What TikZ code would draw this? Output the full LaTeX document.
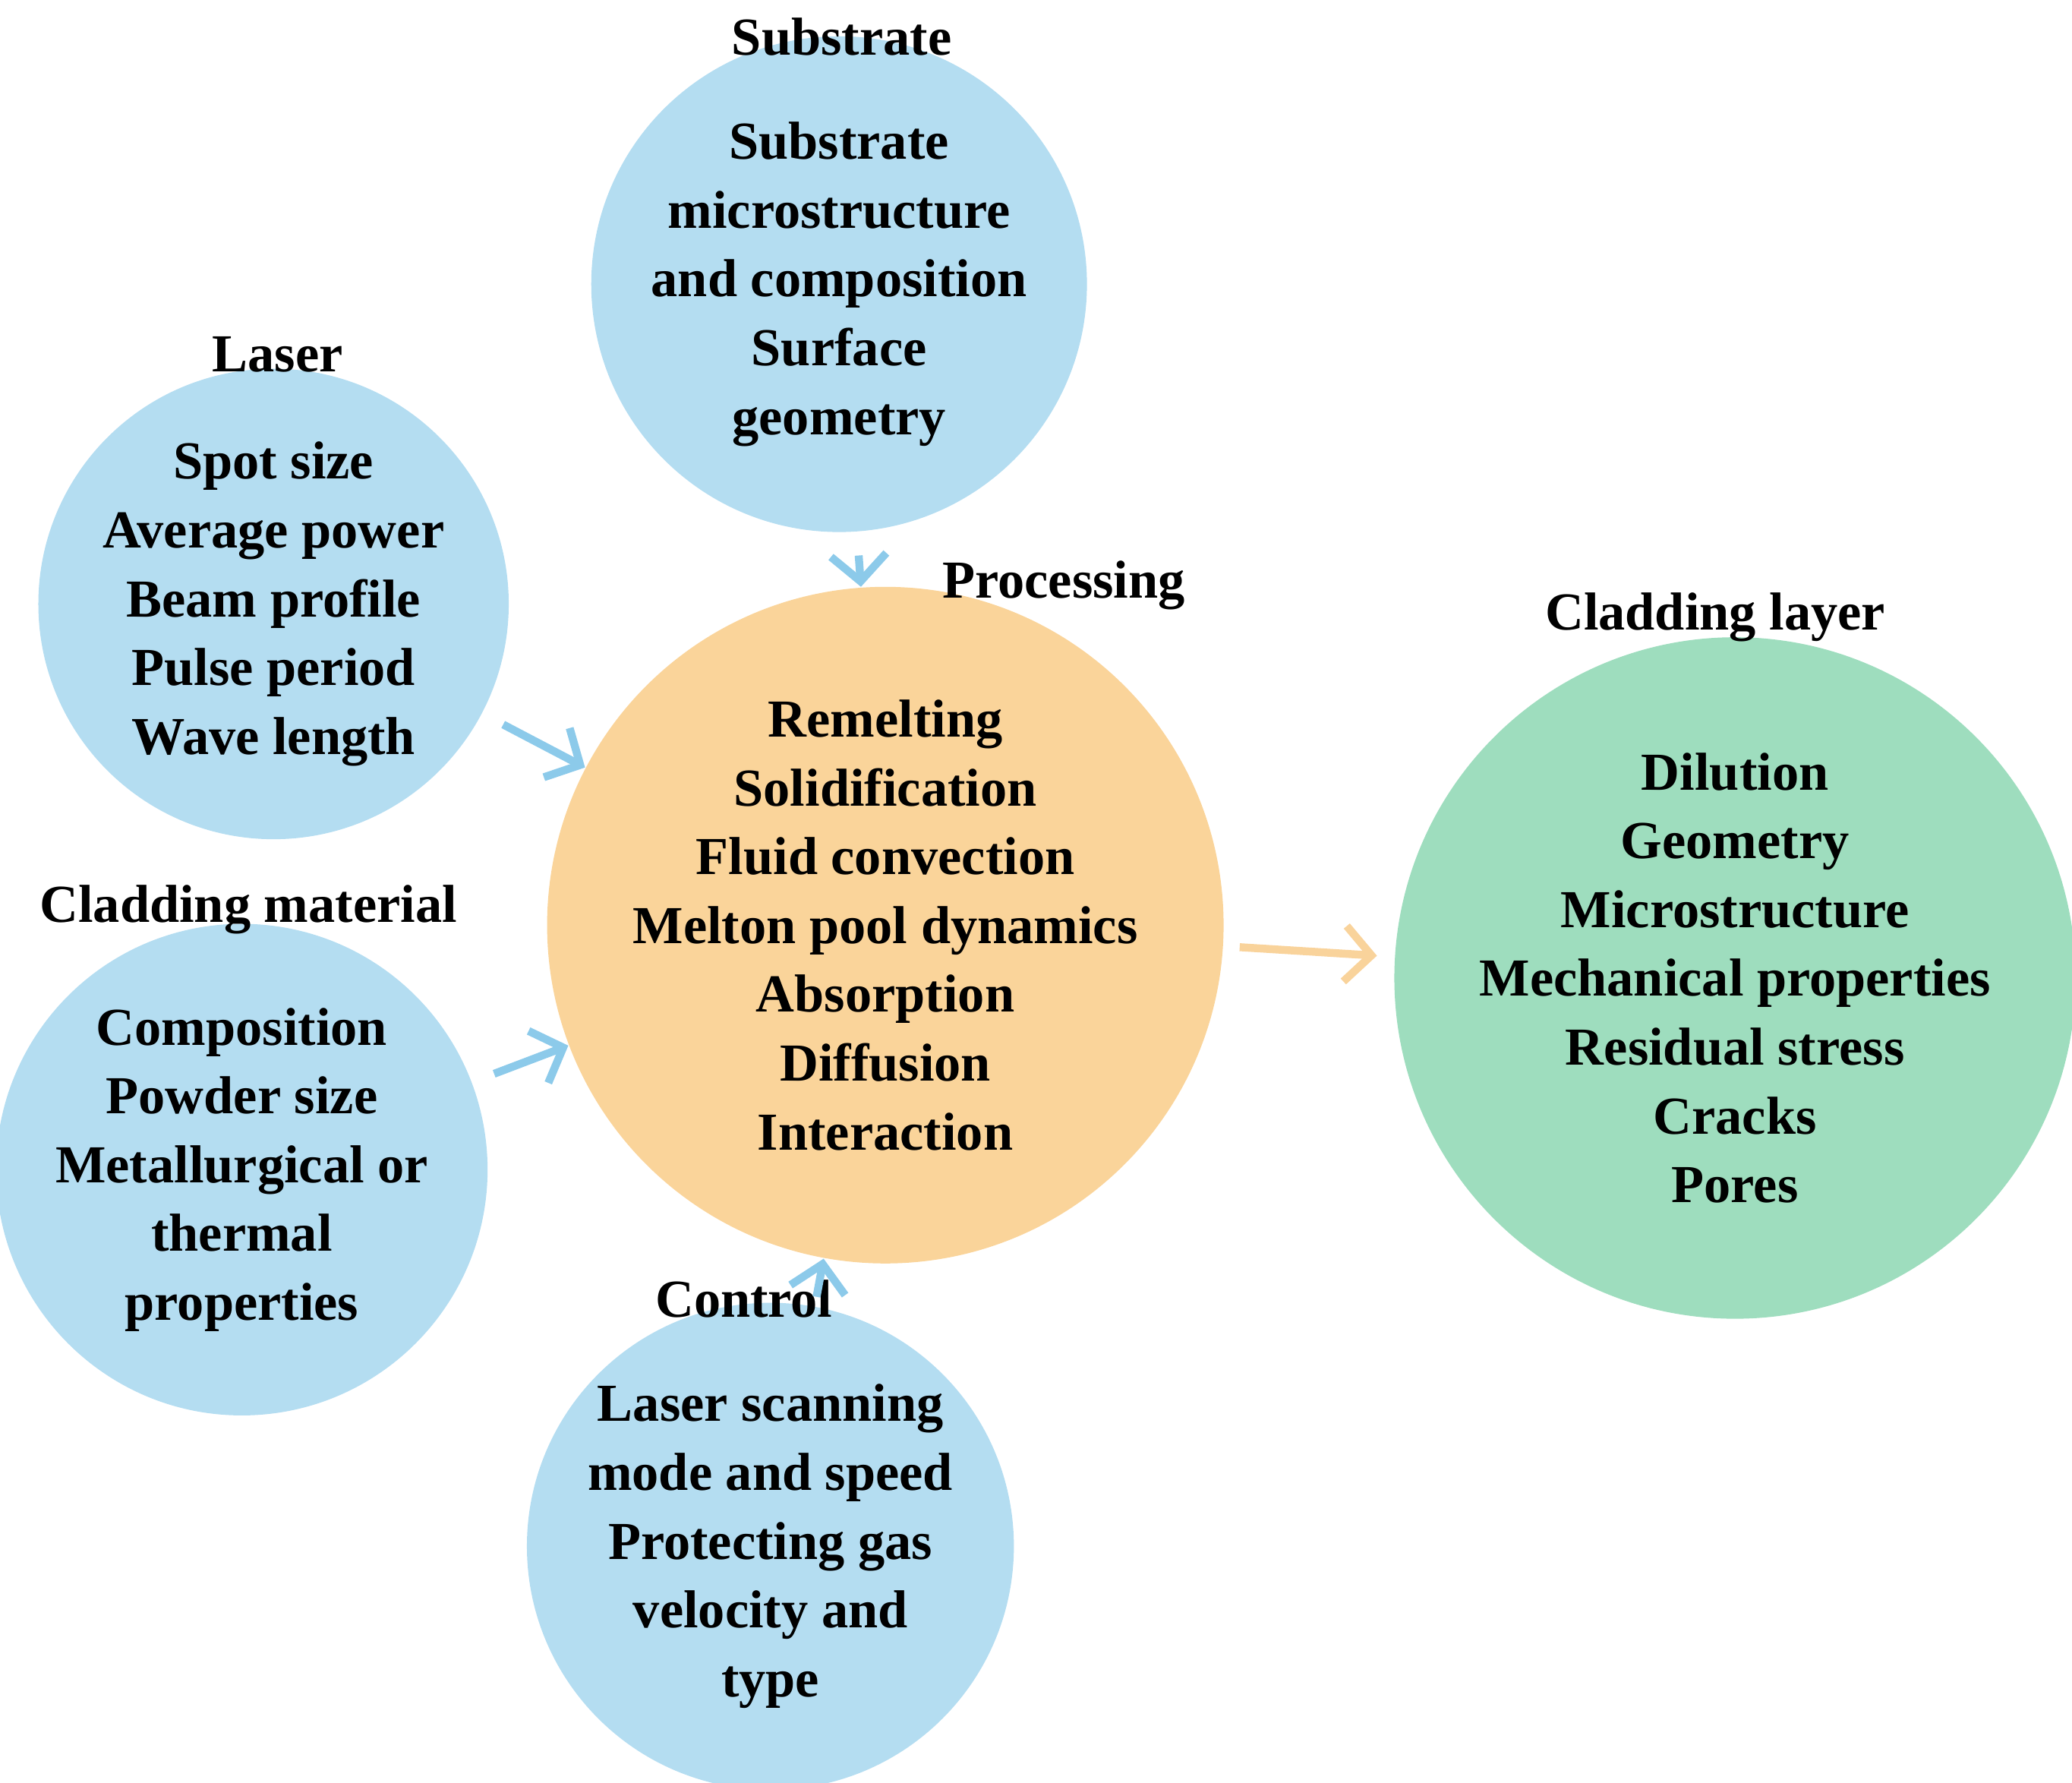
\documentclass[tikz,border=0pt]{standalone}
\usepackage{fontspec}
\setmainfont{Liberation Serif}
\usetikzlibrary{arrows.meta}
\definecolor{cblue}{RGB}{180,221,241}
\definecolor{corange}{RGB}{250,212,154}
\definecolor{cgreen}{RGB}{158,221,190}
\definecolor{ablue}{RGB}{140,202,234}
\definecolor{aorange}{RGB}{249,211,155}
\begin{document}
\begin{tikzpicture}[x=0.01cm,y=-0.01cm,
  circ/.style={circle,inner sep=0pt,align=center,font=\fontsize{11.5}{14.8}\selectfont\bfseries},
  ttl/.style={font=\fontsize{11.5}{14}\selectfont\bfseries},
  arr/.style={line width=0.06cm,-{Straight Barb[length=0.2cm,width=0.42cm]}}]
\useasboundingbox (0,0) rectangle (1568,1349);
\node[circ,fill=cblue,minimum size=3.4cm] (sub) at (635,215) {Substrate\\microstructure\\and composition\\Surface\\geometry};
\node[circ,fill=cblue,minimum size=3.4cm] (las) at (207,457) {Spot size\\Average power\\Beam profile\\Pulse period\\Wave length};
\node[circ,fill=cblue,minimum size=3.4cm] (mat) at (183,885) {Composition\\Powder size\\Metallurgical or\\thermal\\properties};
\node[circ,fill=cblue,minimum size=3.4cm] (con) at (583,1170) {Laser scanning\\mode and speed\\Protecting gas\\velocity and\\type};
\node[circ,fill=corange,minimum size=4.76cm] (proc) at (670,700) {Remelting\\Solidification\\Fluid convection\\Melton pool dynamics\\Absorption\\Diffusion\\Interaction};
\node[circ,fill=cgreen,minimum size=4.9cm] (lay) at (1313,740) {Dilution\\Geometry\\Microstructure\\Mechanical properties\\Residual stress\\Cracks\\Pores};
\node[ttl] (tsub) at (637,28) {Substrate};
\node[ttl] (tlas) at (210,268) {Laser};
\node[ttl] (tproc) at (805,443) {Processing};
\node[ttl] (tlay) at (1298,467) {Cladding layer};
\node[ttl] (tmat) at (188,688) {Cladding material};
\node[ttl] (tcon) at (563,983) {Control};
\draw[arr,ablue,shorten <=5pt] (sub) -- (proc);
\draw[arr,ablue,shorten <=5pt] (las) -- (proc);
\draw[arr,ablue,shorten <=5pt] (mat) -- (proc);
\draw[arr,ablue,shorten <=2pt] (con) -- (proc);
\draw[arr,aorange,shorten <=0.12cm,shorten >=0.13cm] (proc) -- (lay);
\end{tikzpicture}
\end{document}
